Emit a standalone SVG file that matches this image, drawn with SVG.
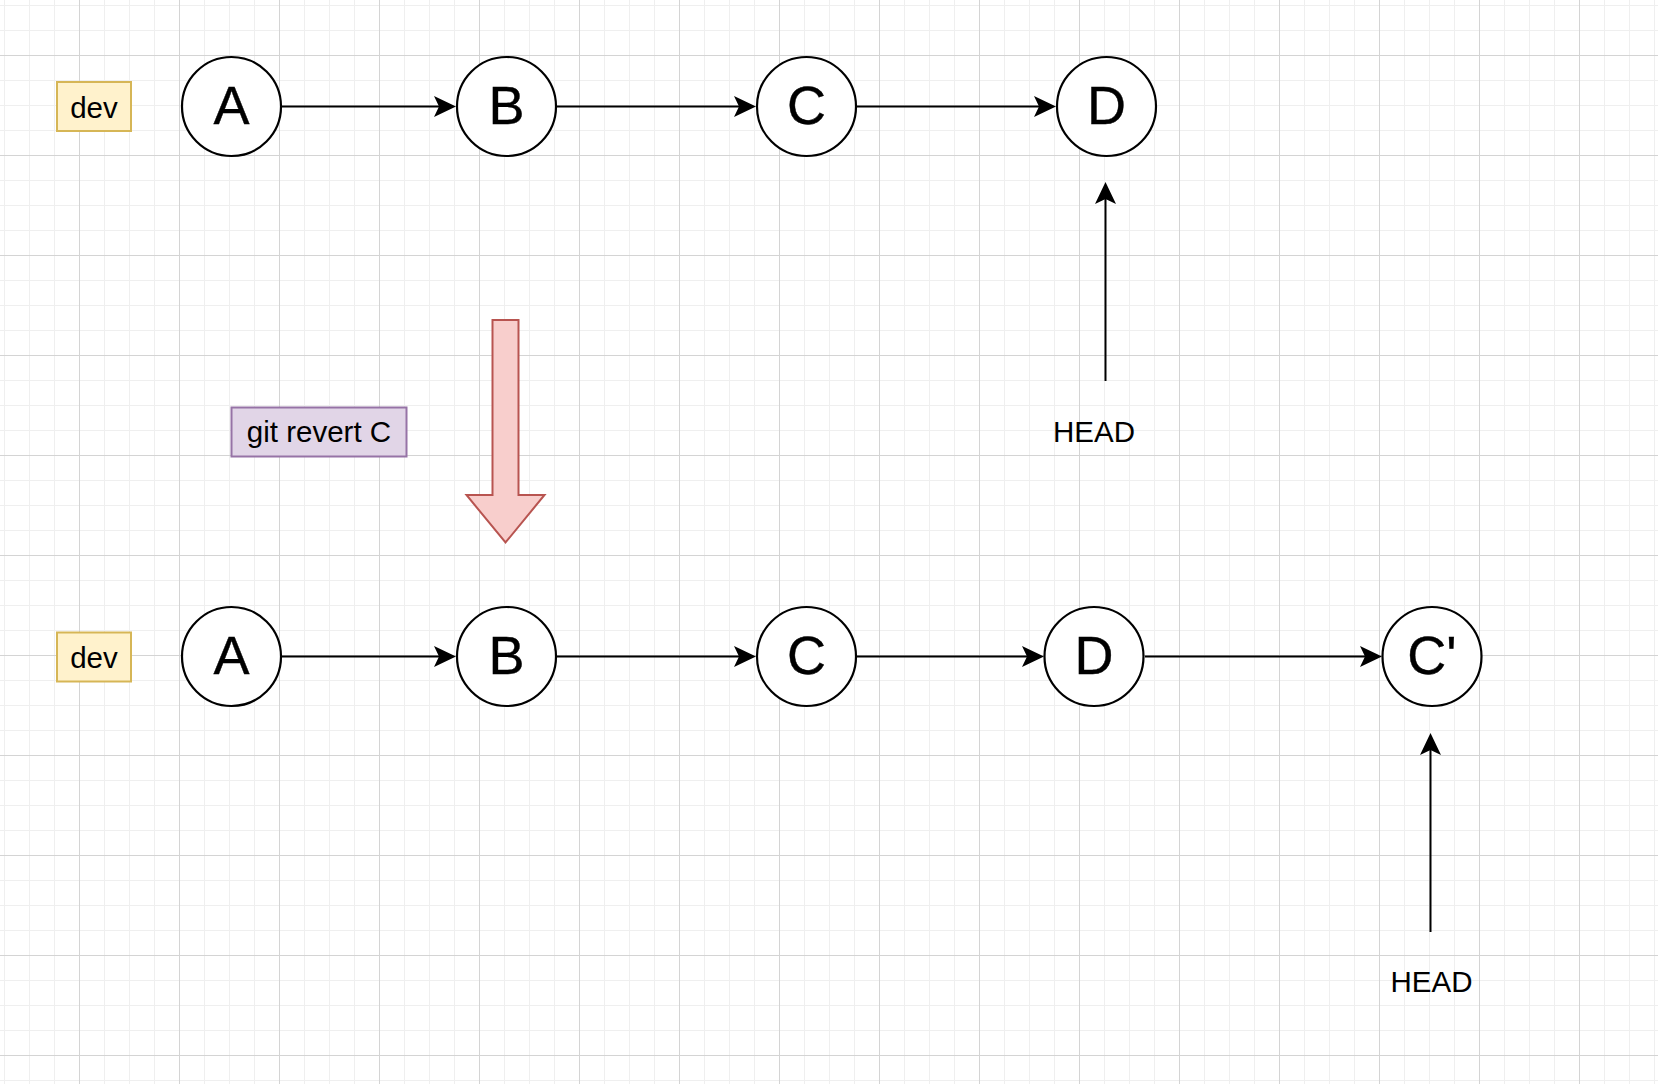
<svg xmlns="http://www.w3.org/2000/svg" width="1658" height="1084" viewBox="0 0 1658 1084">
  <defs>
    <pattern id="grid" patternUnits="userSpaceOnUse" x="79" y="55" width="100" height="100">
      <path d="M25.5 0V100M50.5 0V100M75.5 0V100M0 25.5H100M0 50.5H100M0 75.5H100" stroke="#efefef" stroke-width="1" fill="none"/>
      <path d="M0.5 0V100M0 0.5H100" stroke="#d4d4d4" stroke-width="1" fill="none"/>
    </pattern>
    <marker id="arrow" markerUnits="userSpaceOnUse" markerWidth="24" markerHeight="22" refX="5" refY="10.5" orient="auto" overflow="visible">
      <path d="M0,0 L22,10.5 L0,21 L5,10.5 Z" fill="#000"/>
    </marker>
    <style>
      .commit circle { fill: #ffffff; stroke: #000000; stroke-width: 2.2; }
      .commit text { font-family: "Liberation Sans", Arial, Helvetica, sans-serif; font-size: 54px; text-anchor: middle; fill: #000; stroke: #000; stroke-width: 0.4; }
      .label { font-family: "Liberation Sans", Arial, Helvetica, sans-serif; font-size: 29.5px; text-anchor: middle; fill: #000; }
      .branch rect { fill: #fff2cc; stroke: #d6b656; stroke-width: 2; }
      .cmd rect { fill: #e1d5e7; stroke: #9673a6; stroke-width: 2; }
      .edge { stroke: #000; stroke-width: 2; fill: none; marker-end: url(#arrow); }
    </style>
  </defs>

  <rect x="0" y="0" width="1658" height="1084" fill="#ffffff"/>
  <rect x="0" y="0" width="1658" height="1084" fill="url(#grid)"/>

  <g id="connectors">
    <!-- top row -->
    <line class="edge" x1="282" y1="106.5" x2="439" y2="106.5"/>
    <line class="edge" x1="557" y1="106.5" x2="739" y2="106.5"/>
    <line class="edge" x1="857" y1="106.5" x2="1039" y2="106.5"/>
    <line class="edge" x1="1105.5" y1="381" x2="1105.5" y2="199"/>
    <!-- bottom row -->
    <line class="edge" x1="282" y1="656.5" x2="439" y2="656.5"/>
    <line class="edge" x1="557" y1="656.5" x2="739" y2="656.5"/>
    <line class="edge" x1="857" y1="656.5" x2="1027" y2="656.5"/>
    <line class="edge" x1="1145" y1="656.5" x2="1365" y2="656.5"/>
    <line class="edge" x1="1430.5" y1="932" x2="1430.5" y2="750"/>
  </g>

  <g id="dev-top" class="branch">
    <rect x="57" y="82" width="74" height="49"/>
    <text class="label" x="94" y="118">dev</text>
  </g>
  <g id="A-top" class="commit">
    <circle cx="231.5" cy="106.5" r="49.5"/>
    <text x="231.5" y="124">A</text>
  </g>
  <g id="B-top" class="commit">
    <circle cx="506.5" cy="106.5" r="49.5"/>
    <text x="506.5" y="124">B</text>
  </g>
  <g id="C-top" class="commit">
    <circle cx="806.5" cy="106.5" r="49.5"/>
    <text x="806.5" y="124">C</text>
  </g>
  <g id="D-top" class="commit">
    <circle cx="1106.5" cy="106.5" r="49.5"/>
    <text x="1106.5" y="124">D</text>
  </g>
  <g id="HEAD-top">
    <text class="label" x="1094" y="441.5">HEAD</text>
  </g>

  <g id="revert-arrow">
    <polygon points="492.5,320 518.5,320 518.5,495 544.5,495 505.5,542.5 466.5,495 492.5,495" fill="#f8cecc" stroke="#b85450" stroke-width="2" stroke-linejoin="miter"/>
  </g>
  <g id="git-revert" class="cmd">
    <rect x="231.5" y="407.5" width="175" height="49"/>
    <text class="label" x="319" y="441.5">git revert C</text>
  </g>

  <g id="dev-bottom" class="branch">
    <rect x="57" y="632.5" width="74" height="49"/>
    <text class="label" x="94" y="668">dev</text>
  </g>
  <g id="A-bottom" class="commit">
    <circle cx="231.5" cy="656.5" r="49.5"/>
    <text x="231.5" y="674">A</text>
  </g>
  <g id="B-bottom" class="commit">
    <circle cx="506.5" cy="656.5" r="49.5"/>
    <text x="506.5" y="674">B</text>
  </g>
  <g id="C-bottom" class="commit">
    <circle cx="806.5" cy="656.5" r="49.5"/>
    <text x="806.5" y="674">C</text>
  </g>
  <g id="D-bottom" class="commit">
    <circle cx="1094" cy="656.5" r="49.5"/>
    <text x="1094" y="674">D</text>
  </g>
  <g id="Cprime-bottom" class="commit">
    <circle cx="1432" cy="656.5" r="49.5"/>
    <text x="1432" y="674">C'</text>
  </g>
  <g id="HEAD-bottom">
    <text class="label" x="1431.5" y="992">HEAD</text>
  </g>
</svg>
